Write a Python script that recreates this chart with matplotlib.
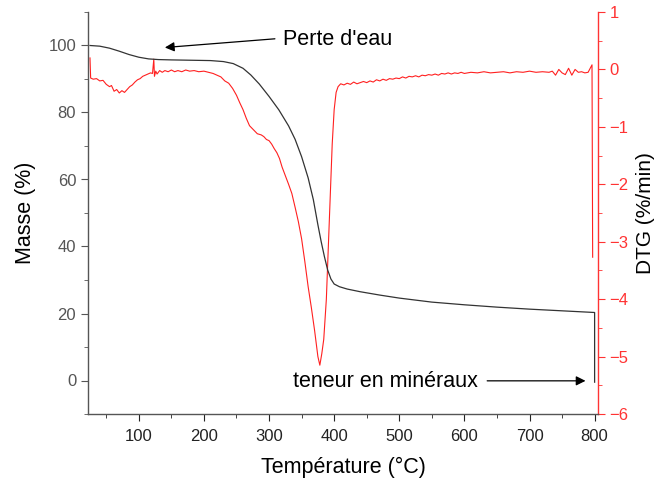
import matplotlib
matplotlib.use('Agg')
import matplotlib.pyplot as plt
from matplotlib.ticker import MultipleLocator

plt.rcParams['font.family'] = ['Liberation Sans', 'DejaVu Sans']

# TGA curve (mass %)
temp_tga = [25, 40, 55, 70, 85, 100, 115, 130, 150, 180, 210, 230, 245, 260, 272,
            285, 300, 315, 330, 340, 350, 360, 368, 375, 380, 385, 390, 395, 400,
            408, 420, 440, 470, 500, 550, 600, 650, 700, 750, 800, 800]
masse = [100, 99.8, 99.2, 98.3, 97.3, 96.5, 96.0, 95.8, 95.7, 95.6, 95.5, 95.2, 94.6,
         93.2, 91.2, 88.5, 84.8, 80.8, 76.0, 72.0, 66.8, 60.5, 54.0, 46.5, 41.5, 37.0,
         33.0, 30.3, 28.8, 28.0, 27.3, 26.5, 25.5, 24.6, 23.4, 22.6, 21.9, 21.3, 20.8,
         20.3, -0.5]

# DTG curve (%/min)
temp_dtg = [25, 26, 30, 35, 40, 45, 50, 55, 58, 62, 66, 70, 74, 78, 82, 86, 90, 94,
            98, 102, 106, 110, 114, 118, 121, 123, 124, 126, 128, 132, 136, 140, 145,
            150, 155, 160, 166, 172, 178, 185, 192, 200, 207, 214, 220, 226, 232, 238,
            244, 250, 255, 260, 265, 270, 276, 282, 288, 292, 296, 300, 304, 308, 312,
            316, 320, 325, 330, 335, 340, 345, 350, 355, 360, 365, 370, 375, 378, 381,
            384, 388, 391, 394, 397, 400, 403, 406, 410, 415, 420, 425, 430, 435, 440,
            445, 450, 455, 460, 465, 470, 475, 480, 485, 490, 495, 500, 505, 510, 515,
            520, 525, 530, 535, 540, 545, 550, 555, 560, 565, 570, 575, 580, 585, 590,
            595, 600, 610, 620, 630, 640, 650, 660, 670, 680, 690, 700, 710, 720, 730,
            735, 740, 745, 750, 755, 760, 765, 770, 775, 780, 785, 790, 796, 797]
dtg = [0.2, -0.15, -0.17, -0.16, -0.2, -0.19, -0.26, -0.3, -0.28, -0.38, -0.35, -0.41,
       -0.37, -0.4, -0.35, -0.3, -0.27, -0.22, -0.18, -0.16, -0.12, -0.1, -0.08, -0.06,
       -0.07, 0.18, -0.12, -0.03, -0.08, -0.02, -0.05, -0.02, -0.04, -0.01, -0.04, -0.02,
       -0.04, -0.01, -0.03, -0.02, -0.04, -0.03, -0.05, -0.07, -0.1, -0.13, -0.2, -0.24,
       -0.33, -0.45, -0.58, -0.7, -0.85, -0.98, -1.05, -1.12, -1.14, -1.17, -1.22, -1.24,
       -1.3, -1.38, -1.45, -1.55, -1.7, -1.85, -2.0, -2.16, -2.4, -2.65, -2.95, -3.35,
       -3.78, -4.15, -4.55, -5.0, -5.15, -4.95, -4.7, -4.0, -3.1, -2.16, -1.3, -0.7,
       -0.4, -0.3, -0.25, -0.27, -0.24, -0.26, -0.22, -0.25, -0.23, -0.21, -0.23, -0.2,
       -0.22, -0.18, -0.2, -0.17, -0.19, -0.16, -0.17, -0.15, -0.16, -0.13, -0.15, -0.12,
       -0.13, -0.11, -0.13, -0.1, -0.11, -0.09, -0.1, -0.08, -0.1, -0.07, -0.08, -0.06,
       -0.08, -0.06, -0.07, -0.05, -0.07, -0.05, -0.06, -0.04, -0.06, -0.05, -0.04,
       -0.06, -0.04, -0.05, -0.03, -0.05, -0.04, -0.05, -0.03, -0.1, 0.0, -0.06, -0.09,
       0.02, -0.1, 0.0, -0.05, -0.04, -0.06, -0.05, 0.08, -3.27]

fig = plt.figure(figsize=(6.57, 4.80), dpi=100)
ax = fig.add_axes([0.134, 0.1375, 0.776, 0.8375])
ax2 = ax.twinx()

ax.plot(temp_tga, masse, color='#333333', lw=0.9, zorder=3)
ax2.plot(temp_dtg, dtg, color='#ff2020', lw=0.8)
ax.set_zorder(ax2.get_zorder() + 1)
ax.patch.set_visible(False)

ax.set_xlim(22, 805)
ax.set_ylim(-10, 110)
ax2.set_ylim(-6, 1)

ax.xaxis.set_major_locator(MultipleLocator(100))
ax.xaxis.set_minor_locator(MultipleLocator(50))
ax.yaxis.set_major_locator(MultipleLocator(20))
ax.yaxis.set_minor_locator(MultipleLocator(10))
ax2.yaxis.set_major_locator(MultipleLocator(1))
ax2.yaxis.set_minor_locator(MultipleLocator(0.5))

grey = '#555555'
red = '#ff3333'
for s in ['top', 'right']:
  ax.spines[s].set_visible(False)
ax.spines['left'].set_color(grey)
ax.spines['bottom'].set_color(grey)
ax2.spines['top'].set_visible(False)
ax2.spines['left'].set_visible(False)
ax2.spines['bottom'].set_visible(False)
ax2.spines['right'].set_color(red)
for sp in list(ax.spines.values()) + list(ax2.spines.values()):
  sp.set_linewidth(1.0)

ax.tick_params(axis='x', which='major', length=5, colors='#222222', labelsize=12, pad=6)
ax.tick_params(axis='x', which='minor', length=3, color='#222222')
ax.tick_params(axis='y', which='major', length=5, color=grey, labelcolor=grey, labelsize=12)
ax.tick_params(axis='y', which='minor', length=3, color=grey)
ax2.tick_params(axis='y', which='major', length=5, color=red, labelcolor=red, labelsize=12)
ax2.tick_params(axis='y', which='minor', length=3, color=red)

ax.set_xlabel('Température (°C)', fontsize=15.5, labelpad=9)
ax.set_ylabel('Masse (%)', fontsize=15.5, labelpad=9)
ax2.set_ylabel('DTG (%/min)', fontsize=15, labelpad=5)

ax.annotate('', xy=(140, 99.4), xytext=(309, 102),
            arrowprops=dict(arrowstyle='-|>', color='black', lw=0.9,
                            mutation_scale=14, shrinkA=0, shrinkB=0))
ax.text(321, 101.8, "Perte d'eau", fontsize=15.5, va='center', ha='left')
ax.annotate('', xy=(786, -0.1), xytext=(635, -0.1),
            arrowprops=dict(arrowstyle='-|>', color='black', lw=0.9,
                            mutation_scale=14, shrinkA=0, shrinkB=0))
ax.text(337, -0.3, 'teneur en minéraux', fontsize=15.5, va='center', ha='left')

fig.savefig('out.png', dpi=100)
